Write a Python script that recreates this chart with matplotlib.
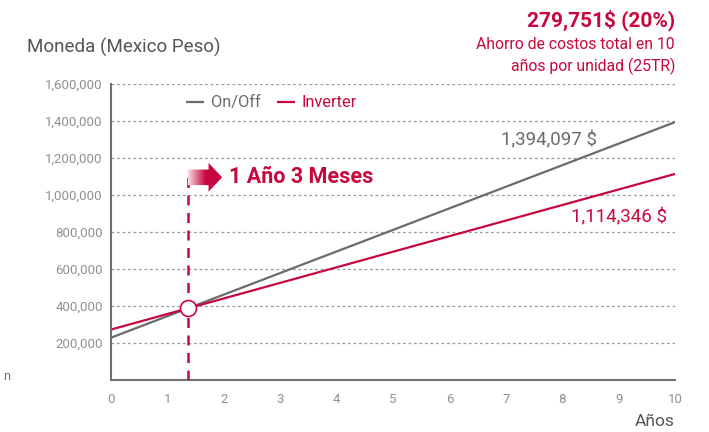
import matplotlib.pyplot as plt
import numpy as np
from matplotlib.patches import Polygon
from matplotlib.colors import LinearSegmentedColormap

# Data
years = [0, 10]
onoff_cost = [230000, 1394097]
inverter_cost = [274000, 1114346]
x_ticks = list(range(0, 11))
y_ticks = [200000, 400000, 600000, 800000, 1000000, 1200000, 1400000, 1600000]
savings_title = '279,751$ (20%)'
savings_text = 'Ahorro de costos total en 10\naños por unidad (25TR)'
payback_label = '1 Año 3 Meses'

RED = '#c8073f'
GRAY = '#6b6b6b'

plt.rcParams['font.family'] = ['Roboto', 'DejaVu Sans']

fig = plt.figure(figsize=(7.09, 4.32), dpi=100)
ax = fig.add_axes([0.1566, 0.1197, 0.7955, 0.6859])

ax.plot(years, onoff_cost, color=GRAY, lw=1.6, label='On/Off', solid_capstyle='butt')
ax.plot(years, inverter_cost, color=RED, lw=1.6, label='Inverter', solid_capstyle='butt')

# break-even point where the two lines cross
s1 = (onoff_cost[1] - onoff_cost[0]) / (years[1] - years[0])
s2 = (inverter_cost[1] - inverter_cost[0]) / (years[1] - years[0])
be_x = (inverter_cost[0] - onoff_cost[0]) / (s1 - s2)
be_y = onoff_cost[0] + s1 * be_x

ax.plot([be_x, be_x], [0, 1135000], color=RED, lw=1.8, dashes=(4, 3), zorder=3)
ax.plot(be_x, be_y, 'o', ms=11.5, mfc='white', mec=RED, mew=1.2, zorder=5)

ax.set_xlim(0, 10)
ax.set_ylim(0, 1600000)
ax.set_xticks(x_ticks)
ax.set_yticks(y_ticks)
ax.set_yticklabels([f'{v:,}' for v in y_ticks])
ax.tick_params(length=0, labelsize=9.5, labelcolor='#909090')
ax.tick_params(axis='x', pad=9)
ax.tick_params(axis='y', pad=6)
ax.yaxis.grid(True, color='#9a9a9a', lw=0.9, dashes=(2.2, 2.2))
ax.set_axisbelow(True)
for side in ['top', 'right']:
    ax.spines[side].set_visible(False)
for side in ['left', 'bottom']:
    ax.spines[side].set_color('#707070')
    ax.spines[side].set_linewidth(1.5)

leg = ax.legend(loc='center left', bbox_to_anchor=(0.122, 0.936), ncol=2, frameon=False,
                handlelength=1.1, handletextpad=0.4, columnspacing=1.0, fontsize=11.8,
                labelcolor='linecolor', borderaxespad=0)

# gradient arrow next to the break-even line
ay = 1096000
dx = 0.37
body_h = 42000
head_h = 78000
x0 = be_x
x1 = be_x + dx
x2 = be_x + dx + 0.24
arrow = Polygon([[x0, ay - body_h], [x1, ay - body_h], [x1, ay - head_h], [x2, ay],
                 [x1, ay + head_h], [x1, ay + body_h], [x0, ay + body_h]],
                closed=True, facecolor='none', edgecolor='none', transform=ax.transData)
ax.add_patch(arrow)
grad = np.linspace(0, 1, 256).reshape(1, -1)
cmap = LinearSegmentedColormap.from_list('fade', ['#f8dbe3', RED, RED])
im = ax.imshow(grad, extent=[x0, x2, ay - head_h, ay + head_h], aspect='auto',
               cmap=cmap, zorder=4)
im.set_clip_path(arrow)
ax.set_xlim(0, 10)
ax.set_ylim(0, 1600000)

ax.text(x2 + 0.12, ay, payback_label, color=RED, fontsize=15.5, fontweight='bold',
        va='center', ha='left')

ax.text(8.62, onoff_cost[1] - 100000, f'{onoff_cost[1]:,} $', color=GRAY, fontsize=13.5,
        ha='right', va='center')
ax.text(9.85, inverter_cost[1] - 235000, f'{inverter_cost[1]:,} $', color=RED,
        fontsize=13.5, ha='right', va='center')

fig.text(27 / 709, 1 - 47 / 432, 'Moneda (Mexico Peso)', color='#555555', fontsize=13.5,
         ha='left', va='center')
fig.text(675 / 709, 1 - 20 / 432, savings_title, color=RED, fontsize=15,
         fontweight='bold', ha='right', va='center')
fig.text(675 / 709, 1 - 56 / 432, savings_text, color=RED, fontsize=11.3, ha='right',
         va='center', linespacing=1.45)
fig.text(675 / 709, 1 - 422 / 432, 'Años', color='#555555', fontsize=12.5, ha='right',
         va='center')
fig.text(3 / 709, 1 - 377 / 432, 'n', color='#707070', fontsize=9, ha='left', va='center')

fig.savefig('out.png', dpi=100)
